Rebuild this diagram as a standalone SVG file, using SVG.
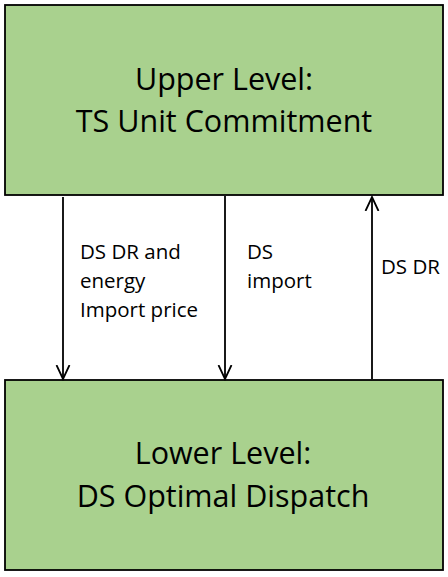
<svg xmlns="http://www.w3.org/2000/svg" width="448" height="577" viewBox="0 0 448 577">
<defs>
<marker id="arr" viewBox="0 0 16 16" refX="14" refY="8" markerWidth="16" markerHeight="16" markerUnits="userSpaceOnUse" orient="auto">
<path d="M0,1.5 L14,8 L0,14.5" fill="none" stroke="#000" stroke-width="1.8"/>
</marker>
</defs>
<style>
.box{fill:#A9D18E;stroke:#000;stroke-width:1.8}
.title{font-family:"Open Sans","Liberation Sans",sans-serif;font-size:30.5px;fill:#000;text-anchor:middle}
.lbl{font-family:"Open Sans","Liberation Sans",sans-serif;font-size:20.5px;fill:#000}
.conn{stroke:#000;stroke-width:1.8;fill:none;marker-end:url(#arr)}
</style>
<g id="upper">
<rect class="box" x="5" y="5" width="438" height="190"/>
<text class="title" x="224" y="90">Upper Level:</text>
<text class="title" x="224" y="132">TS Unit Commitment</text>
</g>
<g id="lower">
<rect class="box" x="5" y="380" width="438" height="190"/>
<text class="title" x="223" y="464">Lower Level:</text>
<text class="title" x="223" y="507">DS Optimal Dispatch</text>
</g>
<g id="connectors">
<line class="conn" x1="63" y1="197" x2="63" y2="379"/>
<line class="conn" x1="225" y1="196" x2="225" y2="379"/>
<line class="conn" x1="372" y1="379" x2="372" y2="197"/>
<text class="lbl" x="80" y="259">DS DR and</text>
<text class="lbl" x="80" y="288">energy</text>
<text class="lbl" x="80" y="317">Import price</text>
<text class="lbl" x="247" y="259">DS</text>
<text class="lbl" x="247" y="288">import</text>
<text class="lbl" x="381" y="274">DS DR</text>
</g>
</svg>
